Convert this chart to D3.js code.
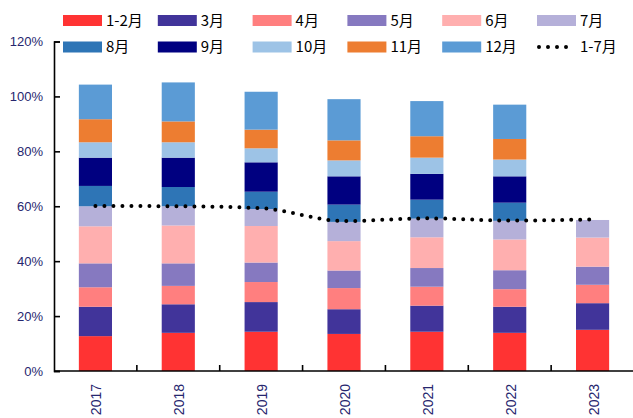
<!DOCTYPE html>
<html>
<head>
<meta charset="utf-8">
<script src="https://cdn.jsdelivr.net/npm/d3@7"></script>
<style>
  html, body { margin: 0; padding: 0; background: #fff; }
  svg { display: block; }
</style>
</head>
<body>
<svg id="chart" width="633" height="418"></svg>
<script>
// Years on the x axis
const years = ["2017", "2018", "2019", "2020", "2021", "2022", "2023"];

// Monthly share of the full year (%), one array per month group
const monthNames = ["1-2月", "3月", "4月", "5月", "6月", "7月", "8月", "9月", "10月", "11月", "12月"];
const janFeb = [12.7, 13.9, 14.3, 13.5, 14.3, 13.9, 15.0];
const mar    = [10.7, 10.4, 10.8, 9.0, 9.5, 9.5, 9.7];
const apr    = [7.1, 6.7, 7.3, 7.7, 6.9, 6.4, 6.7];
const may    = [8.7, 8.2, 7.1, 6.4, 6.8, 6.9, 6.6];
const jun    = [13.5, 13.8, 13.3, 10.7, 11.2, 11.2, 10.6];
const jul    = [7.3, 7.0, 6.2, 7.0, 6.8, 6.8, 6.4];
const aug    = [7.4, 7.0, 6.3, 6.3, 6.9, 6.6, null];
const sep    = [10.3, 10.7, 10.7, 10.3, 9.4, 9.6, null];
const oct    = [5.6, 5.6, 5.1, 5.8, 5.9, 6.1, null];
const nov    = [8.4, 7.6, 6.8, 7.3, 7.8, 7.5, null];
const dec    = [12.6, 14.2, 13.8, 15.0, 12.8, 12.5, null];

// Cumulative January–July share (%)
const janJul = [60.1, 60.0, 59.3, 54.6, 55.6, 54.8, 55.2];

// Y axis ticks (%)
const yTicks = [0, 20, 40, 60, 80, 100, 120];

const monthSeries = [janFeb, mar, apr, may, jun, jul, aug, sep, oct, nov, dec];
const colors = ["#FF3333", "#41349A", "#FF7F7F", "#8679C0", "#FFAFAF", "#B5B0D9",
                "#2E75B6", "#000080", "#9DC3E6", "#ED7D31", "#5B9BD5"];

const svg = d3.select("#chart");

const x = d3.scaleBand().domain(years).range([54, 634]).paddingInner(0.6).paddingOuter(0.3);
const y = d3.scaleLinear().domain([0, 120]).range([371, 41.5]);

// rows for stacking
const rows = years.map((yr, i) => {
  const r = { year: yr };
  monthNames.forEach((m, k) => { r[m] = monthSeries[k][i]; });
  return r;
});

const stack = d3.stack().keys(monthNames).value((d, key) => d[key] == null ? 0 : d[key]);
const layers = stack(rows);

const gBars = svg.append("g");
layers.forEach((layer, k) => {
  gBars.selectAll(null)
    .data(layer.filter(d => d.data[monthNames[k]] != null))
    .enter().append("rect")
    .attr("x", d => x(d.data.year))
    .attr("width", x.bandwidth())
    .attr("y", d => y(d[1]))
    .attr("height", d => y(d[0]) - y(d[1]))
    .attr("fill", colors[k]);
});

// January–July cumulative line (dotted, smoothed)
const line = d3.line()
  .x((d, i) => x(years[i]) + x.bandwidth() / 2)
  .y(d => y(d))
  .curve(d3.curveMonotoneX);

svg.append("path")
  .attr("d", line(janJul))
  .attr("fill", "none")
  .attr("stroke", "#000")
  .attr("stroke-width", 4)
  .attr("stroke-linecap", "round")
  .attr("stroke-dasharray", "0 9");

// Y axis
const axisColor = "#000";
const labelColor = "#26266E";
const gY = svg.append("g").attr("transform", "translate(54,0)")
  .call(d3.axisRight(y).tickValues(yTicks).tickSize(6).tickFormat(""));
gY.select(".domain").attr("stroke", axisColor).attr("stroke-width", 1.6);
gY.selectAll(".tick line").attr("stroke", axisColor).attr("stroke-width", 1.6);

svg.append("g").selectAll("text")
  .data(yTicks).enter().append("text")
  .attr("x", 43)
  .attr("y", d => y(d))
  .attr("dy", "0.36em")
  .attr("text-anchor", "end")
  .attr("font-family", "'Liberation Sans', Arial, sans-serif")
  .attr("font-size", 13)
  .attr("fill", labelColor)
  .text(d => d + "%");

// X axis
svg.append("line")
  .attr("x1", 54).attr("x2", 634)
  .attr("y1", y(0)).attr("y2", y(0))
  .attr("stroke", axisColor).attr("stroke-width", 1.6);

const step = x.step();
svg.append("g").selectAll("line")
  .data(d3.range(1, years.length + 1)).enter().append("line")
  .attr("x1", i => 54 + step * i).attr("x2", i => 54 + step * i)
  .attr("y1", y(0)).attr("y2", y(0) - 6)
  .attr("stroke", axisColor).attr("stroke-width", 1.6);

svg.append("g").selectAll("text")
  .data(years).enter().append("text")
  .attr("transform", d => `translate(${x(d) + x.bandwidth() / 2 + 1},384) rotate(-90)`)
  .attr("text-anchor", "end")
  .attr("dy", "0.36em")
  .attr("font-family", "'Liberation Sans', Arial, sans-serif")
  .attr("font-size", 14)
  .attr("fill", labelColor)
  .text(d => d);

// Legend
const legendItems = monthNames.map((m, k) => ({ name: m, color: colors[k], type: "rect" }))
  .concat([{ name: "1-7月", type: "dots" }]);
const colX = i => 63 + i * 94.8;
const rowY = r => r === 0 ? 15 : 41.5;

const gLeg = svg.append("g");
legendItems.forEach((item, i) => {
  const col = i % 6, row = Math.floor(i / 6);
  const lx = colX(col), ly = rowY(row);
  if (item.type === "rect") {
    gLeg.append("rect")
      .attr("x", lx).attr("y", ly)
      .attr("width", 39).attr("height", 11)
      .attr("fill", item.color);
  } else {
    gLeg.append("line")
      .attr("x1", lx - 26 + 26 + 2).attr("x2", lx + 38)
      .attr("y1", ly + 5.5).attr("y2", ly + 5.5)
      .attr("stroke", "#000").attr("stroke-width", 4)
      .attr("stroke-linecap", "round")
      .attr("stroke-dasharray", "0 9");
  }
  gLeg.append("text")
    .attr("x", lx + 43).attr("y", ly + 5.5)
    .attr("dy", "0.36em")
    .attr("font-family", "'Noto Sans CJK SC', sans-serif")
    .attr("font-size", 15)
    .attr("fill", "#000")
    .text(item.name);
});
</script>
</body>
</html>
